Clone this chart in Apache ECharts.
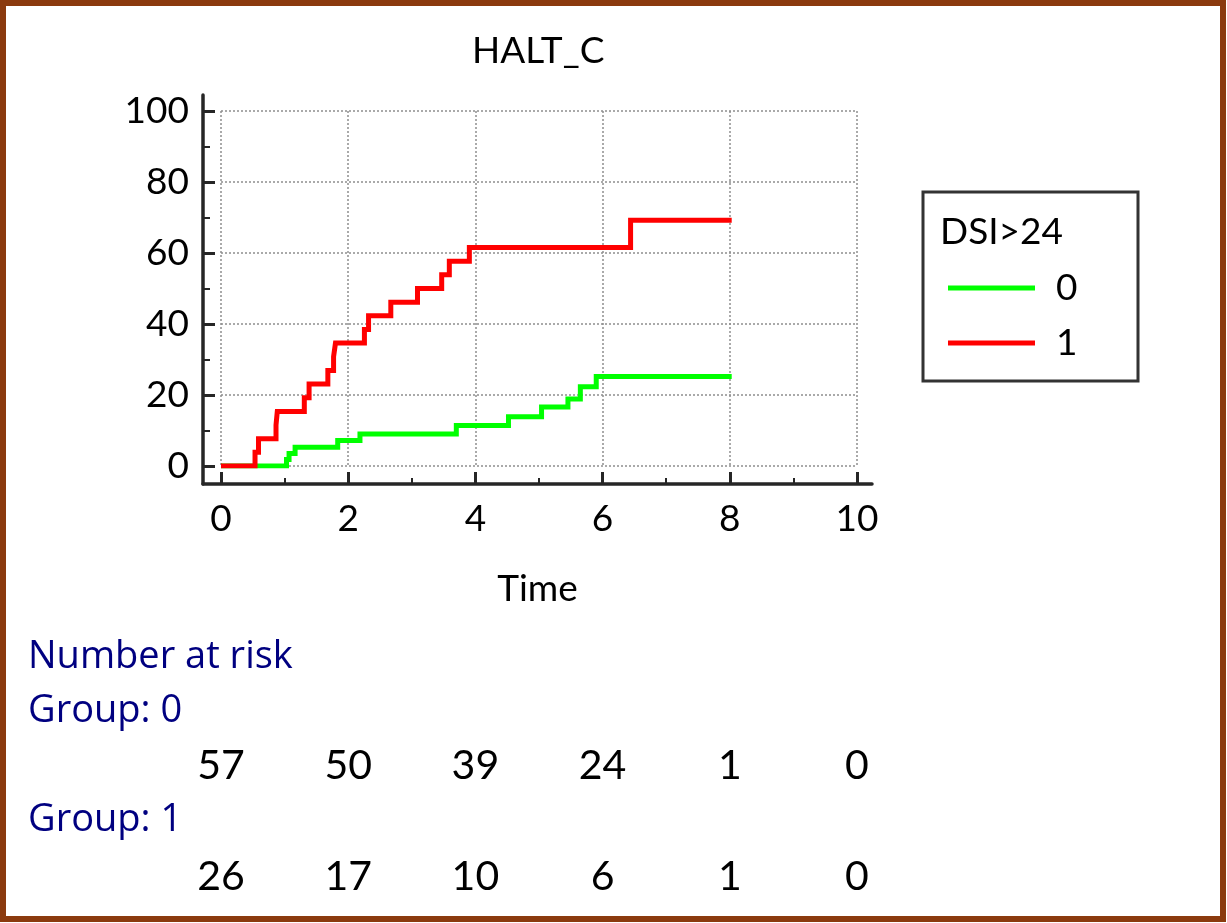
<!DOCTYPE html>
<html>
<head>
<meta charset="utf-8">
<title>HALT_C</title>
<script src="https://cdn.jsdelivr.net/npm/echarts@6/dist/echarts.min.js"></script>
<style>
  html, body { margin: 0; padding: 0; background: #ffffff; }
  #chart { width: 1227px; height: 923px; }
</style>
</head>
<body>
<div id="chart"></div>
<script>
// Cumulative incidence (%) step curves by DSI>24 group: [time, percent]
const group0Steps = [
  [0, 0], [1.03, 1.8], [1.07, 3.5], [1.165, 5.3], [1.835, 7.2], [2.185, 9.0],
  [3.70, 11.4], [4.52, 13.9], [5.04, 16.6], [5.455, 18.9], [5.65, 22.3],
  [5.90, 25.2], [8.03, 25.2]
];
const group1Steps = [
  [0, 0], [0.535, 3.85], [0.59, 7.69], [0.865, 11.54], [0.885, 15.38],
  [1.31, 19.23], [1.385, 23.08], [1.68, 26.92], [1.77, 30.77], [1.80, 34.62],
  [2.255, 38.46], [2.32, 42.31], [2.67, 46.15], [3.09, 50.0], [3.47, 53.85],
  [3.59, 57.69], [3.905, 61.54], [6.44, 69.23], [8.03, 69.23]
];

// Axis ticks
const xMajorTicks = [0, 2, 4, 6, 8, 10];
const xMinorTicks = [1, 3, 5, 7, 9];
const yMajorTicks = [0, 20, 40, 60, 80, 100];
const yMinorTicks = [10, 30, 50, 70, 90];

// Number-at-risk table
const riskTimes = [0, 2, 4, 6, 8, 10];
const riskGroup0 = [57, 50, 39, 24, 1, 0];
const riskGroup1 = [26, 17, 10, 6, 1, 0];

const groupNames = ['0', '1'];
const groupColors = ['#00ff00', '#ff0000'];

const FONT = 'Lato, "Open Sans", sans-serif';
const NOTE_FONT = '"Open Sans", Lato, sans-serif';
const AXIS_COLOR = '#262626';

// Plot area (time 0..10, percent 0..100) and the slightly larger axis frame around it
const PLOT = { left: 221, top: 111, width: 636, height: 355 };
const FRAME = { left: 203, top: 95, width: 669, height: 389 };
const X_RANGE = [0, 10];
const Y_RANGE = [0, 100];
const pxPerX = PLOT.width / (X_RANGE[1] - X_RANGE[0]);
const pxPerY = PLOT.height / (Y_RANGE[1] - Y_RANGE[0]);
const frameX = [
  X_RANGE[0] - (PLOT.left - FRAME.left) / pxPerX,
  X_RANGE[1] + (FRAME.left + FRAME.width - PLOT.left - PLOT.width) / pxPerX
];
const frameY = [
  Y_RANGE[0] - (FRAME.top + FRAME.height - PLOT.top - PLOT.height) / pxPerY,
  Y_RANGE[1] + (PLOT.top - FRAME.top) / pxPerY
];

const chart = echarts.init(document.getElementById('chart'), null, { renderer: 'canvas' });

const riskRow = (values, rowY) => riskTimes.map((t, i) => [t, rowY, values[i]]);

const hiddenParts = {
  axisLine: { show: false }, axisTick: { show: false },
  axisLabel: { show: false }, splitLine: { show: false }
};

const riskLabel = {
  show: true, position: 'inside', formatter: p => String(p.value[2]),
  fontFamily: FONT, fontSize: 41, color: '#000000', opacity: 1
};

const option = {
  animation: false,
  backgroundColor: '#ffffff',
  title: {
    text: 'HALT_C',
    left: 467,
    top: 28,
    textStyle: { fontFamily: FONT, fontSize: 37, fontWeight: 'normal', color: '#000' }
  },
  legend: {
    data: groupNames,
    orient: 'vertical',
    left: 948,
    top: 268,
    padding: 0,
    icon: 'rect',
    itemWidth: 87,
    itemHeight: 5,
    itemGap: 15,
    selectedMode: false,
    textStyle: {
      fontFamily: FONT, fontSize: 37, color: '#000', lineHeight: 40,
      padding: [0, 0, 0, 16]
    }
  },
  grid: [
    { left: PLOT.left, top: PLOT.top, width: PLOT.width, height: PLOT.height },
    { left: FRAME.left, top: FRAME.top, width: FRAME.width, height: FRAME.height },
    // number-at-risk rows, sharing the time scale
    { left: PLOT.left, top: 766, width: PLOT.width, height: 111 }
  ],
  xAxis: [
    {
      gridIndex: 0, type: 'value', min: X_RANGE[0], max: X_RANGE[1], interval: 2,
      ...hiddenParts,
      splitLine: { show: true, lineStyle: { color: '#8f8f8f', width: 1.5, type: [2, 2] } }
    },
    {
      gridIndex: 1, type: 'value', min: frameX[0], max: frameX[1], position: 'bottom',
      name: 'Time', nameLocation: 'middle', nameGap: 87,
      nameTextStyle: { fontFamily: FONT, fontSize: 37, color: '#000' },
      axisLine: { show: true, onZero: false, lineStyle: { color: AXIS_COLOR, width: 3.5 } },
      axisTick: {
        show: true, inside: true, length: 12, customValues: xMajorTicks,
        lineStyle: { color: AXIS_COLOR, width: 3 }
      },
      axisLabel: {
        show: true, customValues: xMajorTicks, fontFamily: FONT, fontSize: 37,
        color: '#000', margin: 17
      },
      splitLine: { show: false }
    },
    {
      gridIndex: 1, type: 'value', min: frameX[0], max: frameX[1], position: 'bottom',
      axisLine: { show: false, onZero: false },
      axisTick: {
        show: true, inside: true, length: 6, customValues: xMinorTicks,
        lineStyle: { color: AXIS_COLOR, width: 2 }
      },
      axisLabel: { show: false }, splitLine: { show: false }
    },
    {
      gridIndex: 2, type: 'value', min: X_RANGE[0], max: X_RANGE[1], show: false
    }
  ],
  yAxis: [
    {
      gridIndex: 0, type: 'value', min: Y_RANGE[0], max: Y_RANGE[1], interval: 20,
      ...hiddenParts,
      splitLine: { show: true, lineStyle: { color: '#8f8f8f', width: 1.5, type: [2, 2] } }
    },
    {
      gridIndex: 1, type: 'value', min: frameY[0], max: frameY[1], position: 'left',
      axisLine: { show: true, onZero: false, lineStyle: { color: AXIS_COLOR, width: 3.5 } },
      axisTick: {
        show: true, inside: true, length: 12, customValues: yMajorTicks,
        lineStyle: { color: AXIS_COLOR, width: 3 }
      },
      axisLabel: {
        show: true, customValues: yMajorTicks, fontFamily: FONT, fontSize: 37,
        color: '#000', margin: 14
      },
      splitLine: { show: false }
    },
    {
      gridIndex: 1, type: 'value', min: frameY[0], max: frameY[1], position: 'left',
      axisLine: { show: false, onZero: false },
      axisTick: {
        show: true, inside: true, length: 7, customValues: yMinorTicks,
        lineStyle: { color: AXIS_COLOR, width: 2 }
      },
      axisLabel: { show: false }, splitLine: { show: false }
    },
    {
      gridIndex: 2, type: 'value', min: 0, max: 1, show: false
    }
  ],
  series: [
    {
      name: groupNames[0], type: 'line', step: 'end',
      xAxisIndex: 0, yAxisIndex: 0,
      data: group0Steps, showSymbol: false, symbol: 'none',
      color: groupColors[0],
      lineStyle: { color: groupColors[0], width: 5, cap: 'butt', join: 'miter' },
      z: 3
    },
    {
      name: groupNames[1], type: 'line', step: 'end',
      xAxisIndex: 0, yAxisIndex: 0,
      data: group1Steps, showSymbol: false, symbol: 'none',
      color: groupColors[1],
      lineStyle: { color: groupColors[1], width: 5, cap: 'butt', join: 'miter' },
      z: 4
    },
    {
      name: 'risk-0', type: 'scatter', xAxisIndex: 3, yAxisIndex: 3,
      symbolSize: 0, silent: true, itemStyle: { opacity: 1 },
      data: riskRow(riskGroup0, 1),
      label: riskLabel
    },
    {
      name: 'risk-1', type: 'scatter', xAxisIndex: 3, yAxisIndex: 3,
      symbolSize: 0, silent: true, itemStyle: { opacity: 1 },
      data: riskRow(riskGroup1, 0),
      label: riskLabel
    }
  ],
  graphic: [
    // outer frame
    {
      type: 'rect', silent: true, z: 100,
      shape: { x: 3, y: 3, width: 1220, height: 916 },
      style: { fill: 'none', stroke: '#8b3a0e', lineWidth: 6 }
    },
    // legend box and heading
    {
      type: 'rect', silent: true,
      shape: { x: 923, y: 192, width: 215, height: 189 },
      style: { fill: '#ffffff', stroke: '#333333', lineWidth: 3 },
      z: -1
    },
    {
      type: 'text', silent: true, x: 940, y: 232,
      style: { text: 'DSI>24', font: '37px ' + FONT, fill: '#000', verticalAlign: 'middle' }
    },
    // number-at-risk headings
    {
      type: 'text', silent: true, x: 28, y: 657,
      style: { text: 'Number at risk', font: '38px ' + NOTE_FONT, fill: '#000080', verticalAlign: 'middle' }
    },
    {
      type: 'text', silent: true, x: 28, y: 711,
      style: { text: 'Group: 0', font: '38px ' + NOTE_FONT, fill: '#000080', verticalAlign: 'middle' }
    },
    {
      type: 'text', silent: true, x: 28, y: 820,
      style: { text: 'Group: 1', font: '38px ' + NOTE_FONT, fill: '#000080', verticalAlign: 'middle' }
    }
  ]
};

chart.setOption(option);
</script>
</body>
</html>
